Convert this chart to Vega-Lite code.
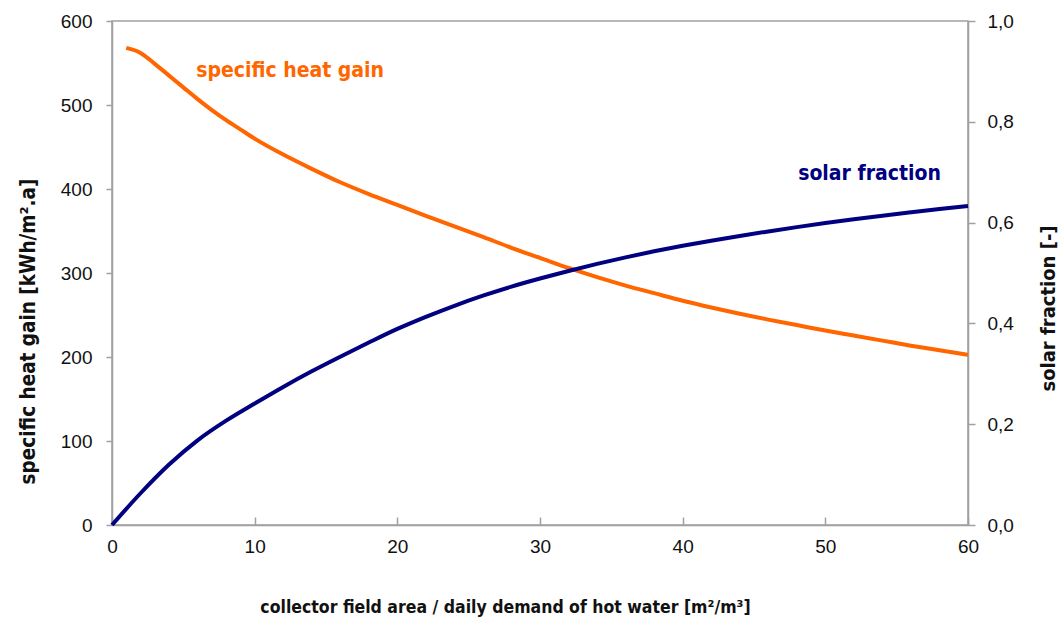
{
  "$schema": "https://vega.github.io/schema/vega-lite/v6.json",
  "width": 856,
  "height": 504,
  "autosize": "none",
  "padding": {"left": 112, "top": 21, "right": 94, "bottom": 100},
  "background": "white",
  "config": {
    "view": {"stroke": "#a0a0a0", "strokeWidth": 1.5},
    "font": "Liberation Sans",
    "axis": {
      "domainColor": "#a0a0a0",
      "domainWidth": 1.5,
      "tickColor": "#a0a0a0",
      "tickWidth": 1.5,
      "grid": false,
      "labelFont": "Liberation Sans",
      "labelFontSize": 19,
      "labelColor": "#111111",
      "labelFlush": false,
      "titleFont": "DejaVu Sans Condensed, Liberation Sans",
      "titleFontSize": 19,
      "titleFontWeight": "bold",
      "titleColor": "#111111"
    }
  },
  "datasets": {
    "heat": [
      {"x": 1, "v": 568}, {"x": 2, "v": 562}, {"x": 3, "v": 549}, {"x": 4, "v": 535},
      {"x": 5, "v": 521}, {"x": 6, "v": 507}, {"x": 7, "v": 494}, {"x": 8, "v": 482},
      {"x": 9, "v": 471}, {"x": 10, "v": 460}, {"x": 12, "v": 441}, {"x": 14, "v": 424},
      {"x": 16, "v": 408}, {"x": 18, "v": 394}, {"x": 20, "v": 381}, {"x": 22, "v": 368},
      {"x": 24, "v": 355.5}, {"x": 26, "v": 343}, {"x": 28, "v": 330}, {"x": 30, "v": 318},
      {"x": 32, "v": 306}, {"x": 34, "v": 295}, {"x": 36, "v": 285}, {"x": 38, "v": 276},
      {"x": 40, "v": 267}, {"x": 42, "v": 259}, {"x": 44, "v": 251.5}, {"x": 46, "v": 244.5},
      {"x": 48, "v": 238}, {"x": 50, "v": 231.5}, {"x": 52, "v": 225.5}, {"x": 54, "v": 219.5},
      {"x": 56, "v": 213.5}, {"x": 58, "v": 208}, {"x": 60, "v": 202.5}
    ],
    "fraction": [
      {"x": 0, "f": 0}, {"x": 2, "f": 0.063}, {"x": 4, "f": 0.12}, {"x": 6, "f": 0.168},
      {"x": 8, "f": 0.207}, {"x": 10, "f": 0.241}, {"x": 12, "f": 0.274}, {"x": 14, "f": 0.305},
      {"x": 16, "f": 0.334}, {"x": 18, "f": 0.362}, {"x": 20, "f": 0.389}, {"x": 22, "f": 0.413},
      {"x": 24, "f": 0.435}, {"x": 26, "f": 0.455}, {"x": 28, "f": 0.473}, {"x": 30, "f": 0.489},
      {"x": 32, "f": 0.504}, {"x": 34, "f": 0.518}, {"x": 36, "f": 0.531}, {"x": 38, "f": 0.543},
      {"x": 40, "f": 0.554}, {"x": 42, "f": 0.564}, {"x": 44, "f": 0.5735}, {"x": 46, "f": 0.5825},
      {"x": 48, "f": 0.591}, {"x": 50, "f": 0.599}, {"x": 52, "f": 0.6065}, {"x": 54, "f": 0.6137},
      {"x": 56, "f": 0.6205}, {"x": 58, "f": 0.627}, {"x": 60, "f": 0.633}
    ],
    "heatLabel": [{"x": 5.9, "v": 541, "label": "specific heat gain"}],
    "fracLabel": [{"x": 58.1, "f": 0.697, "label": "solar fraction"}]
  },
  "layer": [
    {
      "layer": [
        {
          "data": {"name": "heat"},
          "mark": {"type": "line", "color": "#ff6600", "strokeWidth": 4, "interpolate": "monotone"},
          "encoding": {
            "x": {
              "field": "x", "type": "quantitative",
              "scale": {"domain": [0, 60], "nice": false},
              "axis": {
                "values": [0, 10, 20, 30, 40, 50, 60],
                "tickSize": -8,
                "labelPadding": 20,
                "title": "collector field area / daily demand of hot water [m²/m³]",
                "titleFontSize": 17.5,
                "titleX": 393, "titleY": 82,
                "titleAnchor": null, "titleAlign": "center", "titleBaseline": "middle"
              }
            },
            "y": {
              "field": "v", "type": "quantitative",
              "scale": {"domain": [0, 600], "nice": false},
              "axis": {
                "orient": "left",
                "values": [0, 100, 200, 300, 400, 500, 600],
                "tickSize": 6,
                "labelPadding": 14,
                "title": "specific heat gain [kWh/m².a]",
                "titleFontSize": 20.5,
                "titleX": -84, "titleY": 310, "titleAngle": -90,
                "titleAlign": "center", "titleBaseline": "middle"
              }
            }
          }
        },
        {
          "data": {"name": "heatLabel"},
          "mark": {"type": "text", "color": "#ff6600", "fontSize": 21, "fontWeight": "bold", "align": "left", "baseline": "middle", "font": "DejaVu Sans Condensed, Liberation Sans"},
          "encoding": {
            "x": {"field": "x", "type": "quantitative"},
            "y": {"field": "v", "type": "quantitative"},
            "text": {"field": "label"}
          }
        }
      ]
    },
    {
      "layer": [
        {
          "data": {"name": "fraction"},
          "mark": {"type": "line", "color": "#000080", "strokeWidth": 4, "interpolate": "monotone"},
          "encoding": {
            "x": {"field": "x", "type": "quantitative"},
            "y": {
              "field": "f", "type": "quantitative",
              "scale": {"domain": [0, 1], "nice": false},
              "axis": {
                "orient": "right",
                "values": [0, 0.2, 0.4, 0.6, 0.8, 1.0],
                "labelExpr": "replace(format(datum.value, '.1f'), '.', ',')",
                "tickSize": 7,
                "labelPadding": 12,
                "title": "solar fraction [-]",
                "titleFontSize": 20,
                "titleX": 80, "titleY": 287, "titleAngle": -90,
                "titleAlign": "center", "titleBaseline": "middle"
              }
            }
          }
        },
        {
          "data": {"name": "fracLabel"},
          "mark": {"type": "text", "color": "#000080", "fontSize": 21, "fontWeight": "bold", "align": "right", "baseline": "middle", "font": "DejaVu Sans Condensed, Liberation Sans"},
          "encoding": {
            "x": {"field": "x", "type": "quantitative"},
            "y": {"field": "f", "type": "quantitative"},
            "text": {"field": "label"}
          }
        }
      ]
    }
  ],
  "resolve": {"scale": {"y": "independent"}, "axis": {"y": "independent"}}
}
